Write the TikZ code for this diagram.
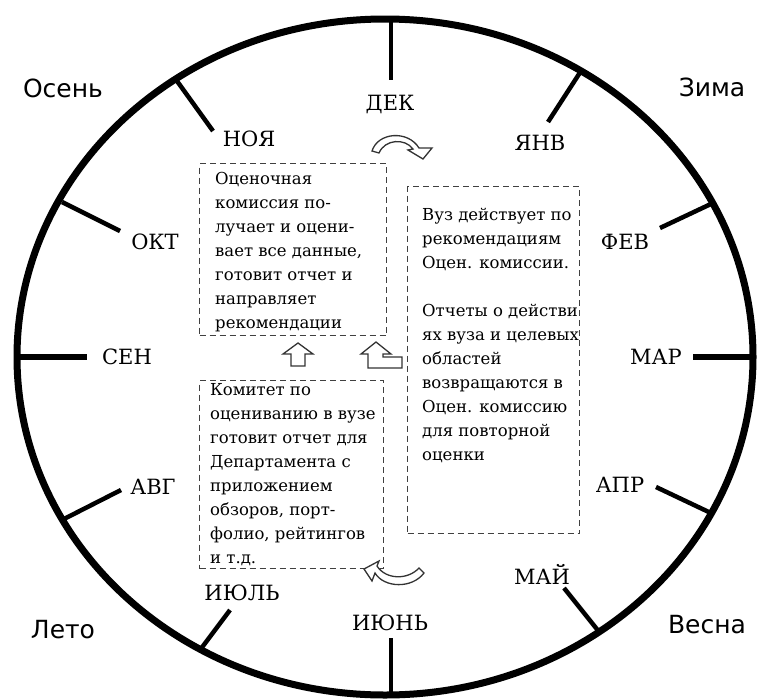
\documentclass[tikz,border=0pt]{standalone}
\usepackage{fontspec}
\setmainfont{DejaVu Serif}
\newfontfamily\seasonfont{DejaVu Sans}
\newfontfamily\boxfont{DejaVu Serif}
\begin{document}
\begin{tikzpicture}[x=1pt,y=-1pt,
  rim/.style={line width=7pt},
  ticksty/.style={line width=4.5pt},
  monthlbl/.style={font=\fontsize{21}{24}\selectfont, inner sep=0pt, anchor=center},
  seasonlbl/.style={font=\seasonfont\fontsize{25}{28}\selectfont, inner sep=0pt, anchor=center},
  dbox/.style={draw=black!75, line width=1.4pt, dash pattern=on 6pt off 4pt, inner sep=0pt, anchor=north west},
  boxtxt/.style={inner sep=0pt, anchor=base west, font=\boxfont\fontsize{16.5}{24}\selectfont},
  blk/.style={draw=black!80, line width=1.3pt, fill=white, line join=miter}
]
\useasboundingbox (0,0) rectangle (757,699);

% outer rim
\draw[rim] (385,357) ellipse [x radius=368pt, y radius=338pt];

% tick end points
\coordinate (t12o) at (391,19);  \coordinate (t12i) at (391,80);
\coordinate (t11o) at (177,81);  \coordinate (t11i) at (213,131);
\coordinate (t1o)  at (581,71);  \coordinate (t1i)  at (548,122);
\coordinate (t10o) at (62,202);  \coordinate (t10i) at (120,231);
\coordinate (t2o)  at (713,203); \coordinate (t2i)  at (660,228);
\coordinate (t9o)  at (17,357);  \coordinate (t9i)  at (87,357);
\coordinate (t3o)  at (753,357); \coordinate (t3i)  at (693,357);
\coordinate (t8o)  at (62,520);  \coordinate (t8i)  at (121,490);
\coordinate (t4o)  at (713,514); \coordinate (t4i)  at (656,487);
\coordinate (t7o)  at (200,650); \coordinate (t7i)  at (230,610);
\coordinate (t5o)  at (600,633); \coordinate (t5i)  at (564,588);
\coordinate (t6o)  at (391,695); \coordinate (t6i)  at (391,638);

\foreach \m in {12,11,1,10,2,8,4,7,5,6}{\draw[ticksty] (t\m o) -- (t\m i);}
\draw[line width=6pt] (t9o) -- (t9i);
\draw[line width=6pt] (t3o) -- (t3i);

% month labels
\node[monthlbl] (dek) at (390,104) {ДЕК};
\node[monthlbl] (noy) at (249,139) {НОЯ};
\node[monthlbl] (yanv) at (540,143) {ЯНВ};
\node[monthlbl] (okt) at (155,242) {ОКТ};
\node[monthlbl] (fev) at (625,242) {ФЕВ};
\node[monthlbl] (sen) at (127,357) {СЕН};
\node[monthlbl] (mar) at (656,357) {МАР};
\node[monthlbl] (avg) at (153,487) {АВГ};
\node[monthlbl] (apr) at (620,485) {АПР};
\node[monthlbl] (iyul) at (242,593) {ИЮЛЬ};
\node[monthlbl] (may) at (542,574) {МАЙ};
\node[monthlbl] (iyun) at (390,623) {ИЮНЬ};

% seasons
\node[seasonlbl] (osen) at (63,88) {Осень};
\node[seasonlbl] (zima) at (712,87) {Зима};
\node[seasonlbl] (leto) at (63,630) {Лето};
\node[seasonlbl] (vesna) at (707,625) {Весна};

% dashed boxes
\node[dbox, minimum width=187pt, minimum height=172pt] (b1) at (199,163) {};
\node[dbox, minimum width=184pt, minimum height=188pt] (b2) at (199,380) {};
\node[dbox, minimum width=172pt, minimum height=347pt] (b3) at (407,186) {};

\node[boxtxt] (b1t) at (215,184) {\parbox[t]{200pt}{\raggedright
Оценочная\\комиссия по-\\лучает и оцени-\\вает все данные,\\готовит отчет и\\направляет\\рекомендации}};
\node[boxtxt] (b2t) at (210,395) {\parbox[t]{200pt}{\raggedright
Комитет по\\оцениванию в вузе\\готовит отчет для\\Департамента с\\приложением\\обзоров, порт-\\фолио, рейтингов\\и т.д.}};
\node[boxtxt] (b3t) at (422,220) {\parbox[t]{200pt}{\raggedright
Вуз действует по\\рекомендациям\\Оцен. комиссии.\\[24pt]Отчеты о действи\\ях вуза и целевых\\областей\\возвращаются в\\Оцен. комиссию\\для повторной\\оценки}};

% curved block arrow near DEK
\draw[blk] (372,151) .. controls (378,132) and (408,130) .. (419,148)
  -- (432,148) -- (423,159) -- (408,150) -- (413,149)
  .. controls (405,138) and (385,139) .. (379,153) -- cycle;

% curved block arrow at bottom
\draw[blk] (364,569) -- (379,561) -- (377,566)
  .. controls (386,580) and (408,580) .. (419,568)
  -- (424,573)
  .. controls (412,589) and (384,588) .. (375,573)
  -- (372,581) -- cycle;

% straight up block arrow
\draw[blk] (298,343) -- (313,354) -- (305,354) -- (305,366) -- (291,366) -- (291,354) -- (283,354) -- cycle;

% bent-up block arrow
\draw[blk] (376,342) -- (391,354) -- (383,354) -- (383,357) -- (402,357) -- (402,368) -- (368,368) -- (368,354) -- (361,354) -- cycle;
\end{tikzpicture}
\end{document}
